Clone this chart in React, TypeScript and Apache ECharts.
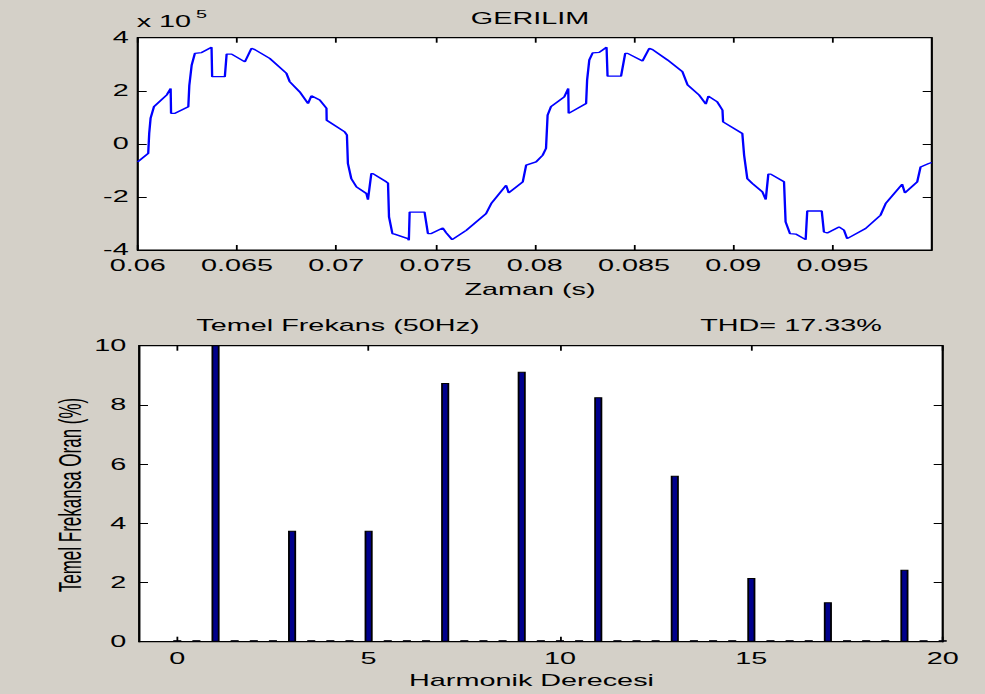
import React, { useEffect, useRef } from "react";
import * as echarts from "echarts";

// ---- Data ----
// Upper plot: GERILIM (voltage) waveform, time in seconds, voltage in units of 10^5
const timeS = [
  0.06, 0.06053, 0.06058, 0.06065, 0.06082, 0.06146, 0.06166, 0.06168, 0.06188, 0.06255,
  0.0626, 0.06272, 0.06288, 0.06322, 0.06372, 0.06375, 0.06439, 0.06448, 0.06473, 0.0654,
  0.06573, 0.0659, 0.06665, 0.06749, 0.06766, 0.06816, 0.06858, 0.06875, 0.06917, 0.06951,
  0.06952, 0.07043, 0.07054, 0.07059, 0.07076, 0.07102, 0.07152, 0.0716, 0.07177, 0.07185,
  0.07252, 0.07261, 0.07266, 0.07283, 0.07294, 0.07361, 0.07366, 0.0737, 0.07445, 0.07462,
  0.07479, 0.07537, 0.07554, 0.07584, 0.07655, 0.07755, 0.07781, 0.07856, 0.07869, 0.0794,
  0.07957, 0.08007, 0.0804, 0.08057, 0.08065, 0.08082, 0.08149, 0.08169, 0.08171, 0.08259,
  0.08264, 0.08275, 0.08292, 0.08325, 0.08362, 0.08367, 0.08435, 0.08456, 0.08468, 0.08543,
  0.08577, 0.08594, 0.08669, 0.08744, 0.0877, 0.08828, 0.08862, 0.08875, 0.0892, 0.08946,
  0.08949, 0.09046, 0.09055, 0.09071, 0.09096, 0.09147, 0.09164, 0.09177, 0.09189, 0.09256,
  0.09264, 0.09286, 0.09315, 0.09365, 0.09373, 0.09446, 0.09457, 0.09474, 0.09533, 0.09558,
  0.09574, 0.09667, 0.09742, 0.09768, 0.09851, 0.09865, 0.09927, 0.09944, 0.09985, 0.1,
];
const voltageE5 = [
  -0.68, -0.36, 0.4, 0.97, 1.4, 1.84, 2.09, 1.15, 1.15, 1.4,
  2.2, 2.97, 3.41, 3.44, 3.64, 2.53, 2.53, 3.38, 3.38, 3.09,
  3.6, 3.55, 3.22, 2.66, 2.34, 1.96, 1.52, 1.81, 1.65, 1.34,
  0.89, 0.45, 0.33, -0.74, -1.31, -1.62, -1.87, -2.1, -1.12, -1.12,
  -1.43, -1.48, -2.75, -3.38, -3.4, -3.57, -3.63, -2.57, -2.57, -3.38,
  -3.38, -3.17, -3.35, -3.61, -3.26, -2.63, -2.25, -1.56, -1.85, -1.43,
  -0.8, -0.68, -0.43, -0.17, 1.08, 1.4, 1.77, 2.09, 1.15, 1.52,
  2.4, 3.16, 3.43, 3.45, 3.64, 2.55, 2.55, 3.41, 3.41, 3.12,
  3.6, 3.55, 3.16, 2.72, 2.22, 1.84, 1.5, 1.8, 1.58, 1.27,
  0.83, 0.39, -0.43, -1.31, -1.49, -1.81, -2.1, -1.14, -1.14, -1.43,
  -2.94, -3.38, -3.4, -3.61, -2.53, -2.53, -3.32, -3.36, -3.13, -3.25,
  -3.57, -3.19, -2.69, -2.25, -1.52, -1.85, -1.43, -0.87, -0.74, -0.7,
];
const timeTicks = [0.06, 0.065, 0.07, 0.075, 0.08, 0.085, 0.09, 0.095];
const voltageTicks = [-4, -2, 0, 2, 4];

// Lower plot: harmonic spectrum (% of fundamental), 25 Hz resolution -> half orders
const harmonicOrder = [
  0, 0.5, 1, 1.5, 2, 2.5, 3, 3.5, 4, 4.5, 5, 5.5, 6, 6.5, 7, 7.5, 8, 8.5, 9, 9.5,
  10, 10.5, 11, 11.5, 12, 12.5, 13, 13.5, 14, 14.5, 15, 15.5, 16, 16.5, 17, 17.5,
  18, 18.5, 19, 19.5, 20,
];
const harmonicPercent = [
  0, 0, 100, 0, 0, 0, 3.75, 0, 0, 0, 3.75, 0, 0, 0, 8.74, 0, 0, 0, 9.12, 0,
  0, 0, 8.26, 0, 0, 0, 5.61, 0, 0, 0, 2.15, 0, 0, 0, 1.33, 0,
  0, 0, 2.43, 0, 0,
];
const harmonicTicks = [0, 5, 10, 15, 20];
const percentTicks = [0, 2, 4, 6, 8, 10];

const TITLE_TOP = "GERILIM";
const XNAME_TOP = "Zaman (s)";
const TITLE_LEFT = "Temel Frekans (50Hz)";
const TITLE_RIGHT = "THD= 17.33%";
const XNAME_BOTTOM = "Harmonik Derecesi";
const YNAME_BOTTOM = "Temel Frekansa Oran (%)";

// The reference figure is stretched horizontally; render narrow and stretch.
const PAGE_W = 985;
const PAGE_H = 694;
const INNER_W = 547;
const S = PAGE_W / INNER_W;
const sx = (X: number) => X / S;

const FONT = "'Liberation Sans', Arial, Helvetica, sans-serif";

function txt(X: number, y: number, text: string, size: number, extra: any = {}) {
  return {
    type: "text",
    x: sx(X),
    y,
    silent: true,
    ...extra,
    style: {
      text,
      fontSize: size,
      fontFamily: FONT,
      fill: "#000",
      align: extra.align || "center",
      textAlign: extra.align || "center",
      verticalAlign: "middle",
      textVerticalAlign: "middle",
    },
  };
}

export default function App() {
  const ref = useRef<HTMLDivElement>(null);

  useEffect(() => {
    if (!ref.current) return;
    const chart = echarts.init(ref.current, undefined, { renderer: "svg" });

    const axisCommon = {
      axisLine: { show: true, onZero: false, lineStyle: { color: "#000", width: 1 } },
      splitLine: { show: false },
    };
    const tickStyle = { inside: true, length: 5, lineStyle: { color: "#000", width: 1 } };
    const labelStyle = { color: "#000", fontSize: 16, lineHeight: 13, fontFamily: FONT };

    const wave = timeS.map((t, i) => [t, voltageE5[i]]);
    const bars = harmonicOrder.map((o, i) => [o, harmonicPercent[i]]);

    const option: any = {
      animation: false,
      backgroundColor: "#d4d0c8",
      textStyle: { fontFamily: FONT },
      grid: [
        {
          left: sx(137.7),
          top: 37.7,
          width: sx(794),
          height: 212.3,
          show: true,
          backgroundColor: "#ffffff",
          borderColor: "#000",
          borderWidth: 1,
        },
        {
          left: sx(139),
          top: 345.7,
          width: sx(803.7),
          height: 296,
          show: true,
          backgroundColor: "#ffffff",
          borderColor: "#000",
          borderWidth: 1,
        },
      ],
      xAxis: [
        {
          gridIndex: 0,
          type: "value",
          position: "bottom",
          min: 0.06,
          max: 0.1,
          ...axisCommon,
          axisTick: { ...tickStyle, customValues: timeTicks },
          axisLabel: {
            ...labelStyle,
            margin: 9,
            customValues: timeTicks,
            formatter: (v: number) => String(+v.toFixed(3)),
          },
        },
        {
          gridIndex: 0,
          type: "value",
          position: "top",
          min: 0.06,
          max: 0.1,
          ...axisCommon,
          axisTick: { ...tickStyle, customValues: timeTicks },
          axisLabel: { show: false },
        },
        {
          gridIndex: 1,
          type: "value",
          position: "bottom",
          min: -1,
          max: 20,
          ...axisCommon,
          axisTick: { ...tickStyle, customValues: harmonicTicks },
          axisLabel: {
            ...labelStyle,
            margin: 10,
            customValues: harmonicTicks,
            formatter: (v: number) => String(v),
          },
        },
        {
          gridIndex: 1,
          type: "value",
          position: "top",
          min: -1,
          max: 20,
          ...axisCommon,
          axisTick: { ...tickStyle, customValues: harmonicTicks },
          axisLabel: { show: false },
        },
      ],
      yAxis: [
        {
          gridIndex: 0,
          type: "value",
          position: "left",
          min: -4,
          max: 4,
          ...axisCommon,
          axisTick: { ...tickStyle, customValues: voltageTicks },
          axisLabel: {
            ...labelStyle,
            margin: 5,
            customValues: voltageTicks,
            formatter: (v: number) => String(v),
          },
        },
        {
          gridIndex: 0,
          type: "value",
          position: "right",
          min: -4,
          max: 4,
          ...axisCommon,
          axisTick: { ...tickStyle, customValues: voltageTicks },
          axisLabel: { show: false },
        },
        {
          gridIndex: 1,
          type: "value",
          position: "left",
          min: 0,
          max: 10,
          ...axisCommon,
          axisTick: { ...tickStyle, customValues: percentTicks },
          axisLabel: {
            ...labelStyle,
            margin: 7,
            customValues: percentTicks,
            formatter: (v: number) => String(v),
          },
        },
        {
          gridIndex: 1,
          type: "value",
          position: "right",
          min: 0,
          max: 10,
          ...axisCommon,
          axisTick: { ...tickStyle, customValues: percentTicks },
          axisLabel: { show: false },
        },
      ],
      series: [
        {
          type: "line",
          xAxisIndex: 0,
          yAxisIndex: 0,
          data: wave,
          showSymbol: false,
          symbol: "none",
          clip: true,
          lineStyle: { color: "#0000ff", width: 1.3 },
          silent: true,
        },
        {
          type: "bar",
          xAxisIndex: 2,
          yAxisIndex: 2,
          data: bars,
          barWidth: 4.5,
          barMinHeight: 1.5,
          clip: true,
          itemStyle: { color: "#00008c", borderColor: "#000", borderWidth: 1 },
          silent: true,
        },
      ],
      graphic: [
        txt(530, 19, TITLE_TOP, 16),
        txt(136.7, 22, "x 10", 16, { align: "left" }),
        txt(196, 14, "5", 11, { align: "left" }),
        txt(530, 290, XNAME_TOP, 16),
        txt(338, 326, TITLE_LEFT, 16),
        txt(791, 326, TITLE_RIGHT, 16),
        txt(531.5, 681, XNAME_BOTTOM, 16),
        txt(70.5, 495, YNAME_BOTTOM, 17, { rotation: Math.PI / 2 }),
      ],
    };

    chart.setOption(option);
    return () => chart.dispose();
  }, []);

  return (
    <div
      style={{
        position: "fixed",
        left: 0,
        top: 0,
        width: PAGE_W,
        height: PAGE_H,
        background: "#d4d0c8",
        overflow: "hidden",
      }}
    >
      <div
        ref={ref}
        style={{
          width: INNER_W,
          height: PAGE_H,
          transform: `scaleX(${S})`,
          transformOrigin: "0 0",
        }}
      />
    </div>
  );
}
